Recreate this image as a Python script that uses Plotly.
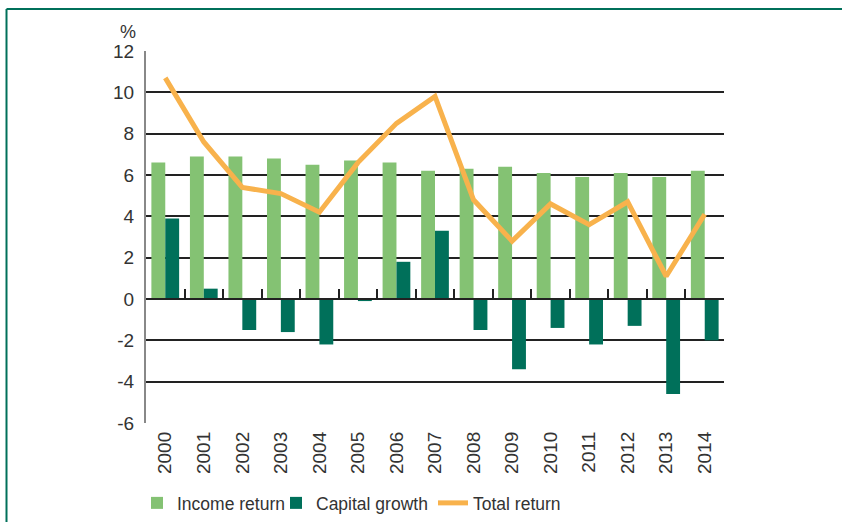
import plotly.graph_objects as go

# annual returns, %
years = [str(y) for y in range(2000, 2015)]
income_return = [6.6, 6.9, 6.9, 6.8, 6.5, 6.7, 6.6, 6.2, 6.3, 6.4, 6.1, 5.9, 6.1, 5.9, 6.2]
capital_growth = [3.9, 0.5, -1.5, -1.6, -2.2, -0.1, 1.8, 3.3, -1.5, -3.4, -1.4, -2.2, -1.3, -4.6, -2.0]
total_return = [10.7, 7.6, 5.4, 5.1, 4.2, 6.6, 8.5, 9.8, 4.8, 2.8, 4.6, 3.6, 4.7, 1.1, 4.1]
y_ticks = [-6, -4, -2, 0, 2, 4, 6, 8, 10, 12]
y_ticktext = [str(v) for v in y_ticks]  # plain hyphen, not unicode minus

W, H = 842, 522
# plot area in pixels
X0, X1, Y0, Y1 = 146, 724, 51, 423


def fx(p):  # pixel -> paper fraction
    return p / W


def fy(p):
    return 1 - p / H


font = "Liberation Sans, Arial, sans-serif"
txt = "#333333"
teal = "#00705A"

fig = go.Figure()
fig.add_trace(go.Bar(x=years, y=income_return, name="Income return", legend="legend",
                     marker=dict(color="#84C273", line=dict(width=0))))
fig.add_trace(go.Bar(x=years, y=capital_growth, name="Capital growth", legend="legend2",
                     marker=dict(color="#00705A", line=dict(width=0))))
fig.add_trace(go.Scatter(x=years, y=total_return, name="Total return", mode="lines",
                         legend="legend3", line=dict(color="#F8B24C", width=5)))
# invisible trace on the second x axis so the zero-line ticks show
fig.add_trace(go.Scatter(x=years, y=[0] * len(years), xaxis="x2", mode="lines",
                         line=dict(width=0), showlegend=False, hoverinfo="skip"))

leg = dict(orientation="h", yanchor="middle", xanchor="left", y=fy(503),
           font=dict(size=17.5, color=txt), bgcolor="rgba(0,0,0,0)", itemwidth=30)

fig.update_layout(
    width=W, height=H,
    margin=dict(l=0, r=0, t=0, b=0, autoexpand=False),
    paper_bgcolor="white", plot_bgcolor="white",
    font=dict(family=font, size=19, color=txt),
    barmode="group", bargap=0.28, bargroupgap=0,
    showlegend=True,
    legend=dict(leg, x=fx(137)),
    legend2=dict(leg, x=fx(276)),
    legend3=dict(leg, x=fx(433)),
    xaxis=dict(type="category", domain=[fx(X0), fx(X1)], showgrid=False, showline=False,
               ticks="", tickangle=-90, ticklabelstandoff=4, range=[-0.5, 14.5]),
    xaxis2=dict(type="category", domain=[fx(X0), fx(X1)], overlaying="x", anchor="free",
                position=fy(299), side="bottom", showline=True, linecolor="#222222",
                linewidth=2, ticks="inside", ticklen=9, tickwidth=1.5, tickcolor="#222222",
                tickson="boundaries", showticklabels=False, showgrid=False,
                range=[-0.5, 14.5]),
    yaxis=dict(domain=[fy(Y1), fy(Y0)], range=[-6, 12], tickvals=y_ticks, ticktext=y_ticktext,
               showgrid=True, gridcolor="#222222", gridwidth=1.5, zeroline=False,
               showline=True, linecolor="#888888", linewidth=2, ticks="",
               ticklabelstandoff=6),
)

# "%" unit label above the y axis
fig.add_annotation(text="%", xref="paper", yref="paper", x=fx(128), y=fy(32),
                   xanchor="center", yanchor="middle", showarrow=False,
                   font=dict(size=18, color=txt))

# teal frame on top and left edges
fig.add_shape(type="line", xref="paper", yref="paper", x0=fx(6.5), x1=fx(850),
              y0=fy(9), y1=fy(9), line=dict(color=teal, width=2))
fig.add_shape(type="line", xref="paper", yref="paper", x0=fx(6.5), x1=fx(6.5),
              y0=fy(9), y1=fy(530), line=dict(color=teal, width=2))

fig.write_html("out.html", config={"displayModeBar": False},
               post_script="document.body.style.margin='0px';")
